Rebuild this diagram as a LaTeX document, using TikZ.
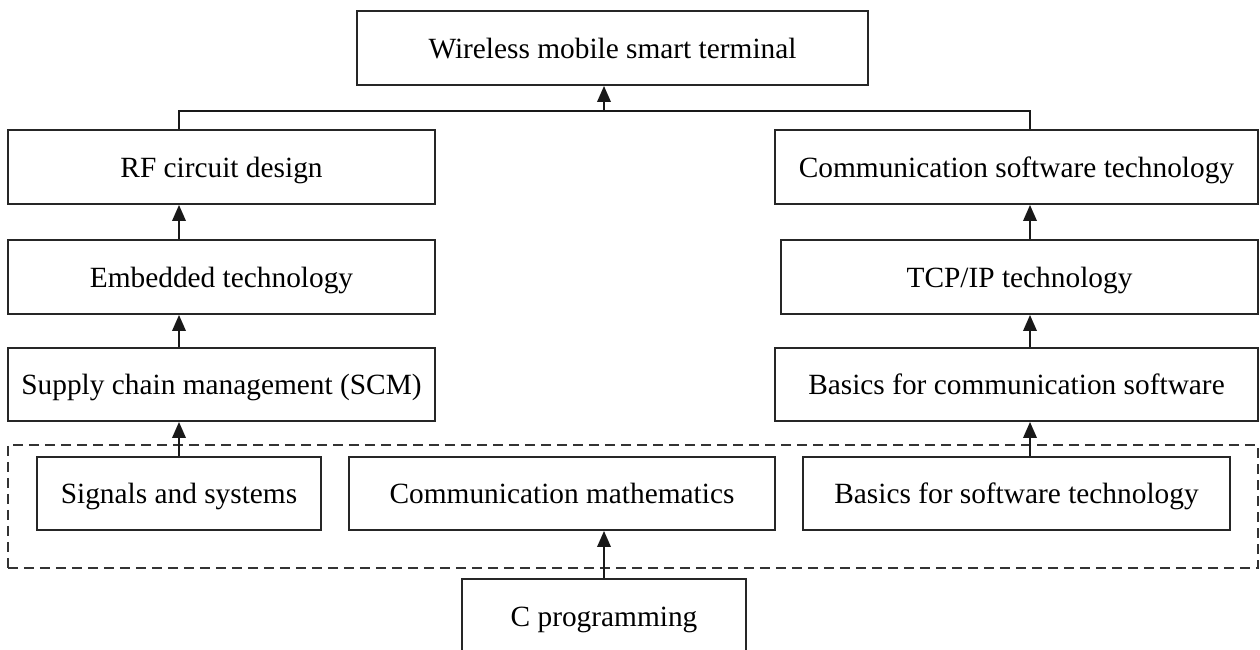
\documentclass[tikz,border=0pt]{standalone}
\usepackage{fontspec}
\setmainfont{Liberation Serif}
\usetikzlibrary{arrows.meta}
\begin{document}
\begin{tikzpicture}[y=-1cm,
  box/.style={draw=black!85, line width=1.1pt, rectangle, inner sep=0pt, minimum height=1.48cm,
    font=\fontsize{16.7}{20}\selectfont, text height=15.5pt, text depth=4pt},
  arr/.style={line width=1.1pt, draw=black!90, -{Triangle[length=0.32cm,width=0.27cm]}},
  link/.style={line width=1.1pt, draw=black!90},
  grp/.style={draw=black!80, line width=1.1pt, dash pattern=on 0.2cm off 0.12cm}]
\useasboundingbox (0,0) rectangle (25.2,13.0);
\clip (0,0) rectangle (25.2,13.0);
\node[box, minimum width=10.22cm] (top) at (12.25,0.96) {Wireless mobile smart terminal};
\node[box, minimum width=8.54cm] (rf) at (4.43,3.34) {RF circuit design};
\node[box, minimum width=9.66cm] (cst) at (20.33,3.34) {Communication software technology};
\node[box, minimum width=8.54cm] (emb) at (4.43,5.54) {Embedded technology};
\node[box, minimum width=9.54cm] (tcp) at (20.39,5.54) {TCP/IP technology};
\node[box, minimum width=8.54cm, minimum height=1.46cm] (scm) at (4.43,7.69) {Supply chain management (SCM)};
\node[box, minimum width=9.66cm, minimum height=1.46cm] (bcs) at (20.33,7.69) {Basics for communication software};
\node[grp, minimum width=25.0cm, minimum height=2.46cm, inner sep=0pt] (group) at (12.66,10.13) {};
\node[box, minimum width=5.68cm, minimum height=1.46cm] (sig) at (3.58,9.87) {Signals and systems};
\node[box, minimum width=8.52cm, minimum height=1.46cm] (cm) at (11.24,9.87) {Communication mathematics};
\node[box, minimum width=5.68cm, anchor=north] (cp) at (12.08,11.56) {C programming};
\node[box, minimum width=8.54cm, minimum height=1.46cm] (bst) at (20.33,9.87) {Basics for software technology};
\coordinate (j) at (12.08,2.22);
\draw[link] (rf.north -| 3.58,0) |- (j) -| (cst.north -| 20.6,0);
\draw[arr] (j) -- (top.south -| j);
\draw[arr] (emb.north -| 3.58,0) -- (rf.south -| 3.58,0);
\draw[arr] (scm.north -| 3.58,0) -- (emb.south -| 3.58,0);
\draw[arr] (sig.north -| 3.58,0) -- (scm.south -| 3.58,0);
\draw[arr] (tcp.north -| 20.6,0) -- (cst.south -| 20.6,0);
\draw[arr] (bcs.north -| 20.6,0) -- (tcp.south -| 20.6,0);
\draw[arr] (bst.north -| 20.6,0) -- (bcs.south -| 20.6,0);
\draw[arr] (cp.north) -- (cm.south -| cp.north);
\end{tikzpicture}
\end{document}
